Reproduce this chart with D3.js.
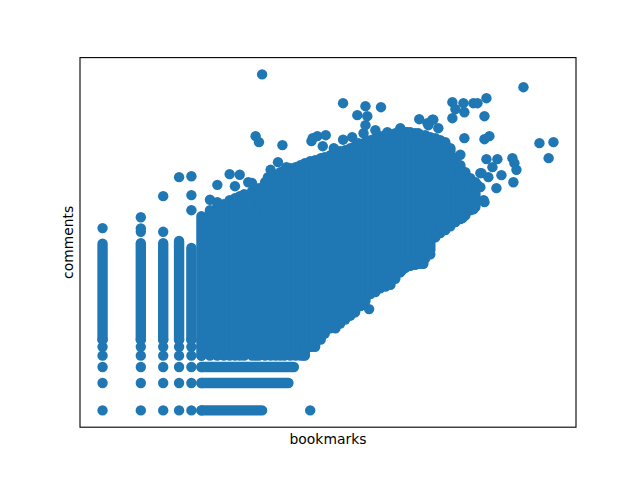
<!DOCTYPE html>
<html>
<head>
<meta charset="utf-8">
<script src="https://cdn.jsdelivr.net/npm/d3@7"></script>
<style>
  body { margin: 0; background: #fff; }
  text { font-family: "DejaVu Sans", sans-serif; font-size: 13.9px; fill: #000; }
</style>
</head>
<body>
<div id="chart"></div>
<script>
// values (log-log scatter, no tick labels)

// lowest counts: every combination is present, drawn as separate dots
var gridBookmarks = [1, 2, 3, 4, 5, 6];
var gridComments = [1, 2, 3, 4, 5, 6];

// columns at 1..5 bookmarks are packed solid up to these comment counts
var colBookmarks = [1, 2, 3, 4, 5];
var colTopComments = [68, 69, 69, 73, 61];

// rows at 1..3 comments run out to these bookmark counts
var rowComments = [1, 2, 3];
var rowEndBookmarks = [18, 29, 32];

// the dense cloud: for each bookmark count, lowest and highest comment count seen
var bandBookmarks = [6, 7, 8, 9, 10, 11, 12, 13, 15, 16, 17, 19, 21, 23, 25, 27, 30, 33, 36, 39,
  43, 47, 52, 56, 62, 68, 74, 81, 89, 97, 107, 117, 128, 140, 153, 168, 184, 201, 220, 241,
  264, 289, 316, 346, 379, 415, 454, 497, 545, 597, 653, 715, 783, 857];
var bandHigh = [137, 159, 176, 185, 205, 216, 227, 239, 258, 264, 278, 323, 358, 386, 417, 438, 461, 473, 497, 523,
  550, 565, 594, 609, 641, 674, 709, 728, 765, 804, 846, 890, 936, 985, 1036, 1062, 1090, 1117, 1146, 1146,
  1146, 1117, 1062, 1062, 1010, 985, 936, 890, 765, 594, 497, 417, 340, 264];
var bandLow = [4, 4, 4, 4, 4, 4, 4, 4, 4, 4, 4, 4, 4, 4, 4, 4, 4, 4, 4, 4,
  5, 5, 6, 7, 8, 8, 9, 10, 11, 12, 14, 16, 19, 20, 22, 23, 24, 28, 33, 37,
  39, 40, 41, 47, 58, 80, 89, 96, 106, 118, 127, 140, 159, 172];

// single points outside the cloud [bookmarks, comments]
var outliers = [
  [1, 101], [2, 92], [2, 100], [2, 133], [3, 92], [3, 227], [4, 367], [5, 376], [5, 233], [5, 159],
  [8, 302], [10, 396], [12, 390], [11, 292], [14, 323], [15, 316], [7, 207], [8, 195], [11, 207],
  [14, 190], [17, 190], [16, 1036], [17, 890], [26, 825], [18, 4950], [24, 537], [20, 367],
  [21, 442], [28, 473],
  [44, 913], [49, 1036], [57, 1062], [54, 804], [66, 765], [78, 948], [92, 1010], [113, 1117],
  [117, 1368], [140, 1206], [78, 2388], [117, 2213], [155, 2158], [101, 1763], [121, 1718],
  [45, 985], [103, 868], [174, 1146], [220, 1268], [250, 1146], [305, 1117], [360, 1439],
  [400, 1576], [310, 1593],
  [2047, 3580], [565, 2449], [690, 2388], [826, 2388], [890, 2388], [1047, 2710], [597, 2052],
  [702, 1901], [1010, 1718], [565, 1634], [393, 1576], [366, 1368], [438, 1268], [702, 985],
  [1010, 960], [1105, 1036], [2735, 868], [3525, 890], [3230, 594], [653, 648], [1047, 579],
  [1277, 579], [1167, 473], [1676, 594], [1738, 523], [1803, 442], [1706, 323], [1374, 386],
  [1255, 278], [1010, 195], [826, 163], [938, 406], [783, 358], [889, 302], [996, 205],
  [938, 285], [857, 323], [1084, 367], [957, 406], [667, 417], [545, 417], [826, 168],
  [43, 1], [38, 4], [44, 5], [125, 13], [228, 35], [274, 40], [334, 41], [379, 52], [415, 83],
  [678, 130]
];

var xLabel = "bookmarks";
var yLabel = "comments";

var width = 640, height = 480;
var margin = {top: 57.6, right: 64, bottom: 52.8, left: 80};
var color = "#1f77b4";
var dotR = 5.2;

// matplotlib style autoscale: data extent plus 5% on each side (in log space)
function paddedLogDomain(values) {
  var lo = Math.log10(d3.min(values));
  var hi = Math.log10(d3.max(values));
  var pad = (hi - lo) * 0.05;
  return [Math.pow(10, lo - pad), Math.pow(10, hi + pad)];
}

var allX = gridBookmarks.concat(colBookmarks, rowEndBookmarks, bandBookmarks, outliers.map(function(d) { return d[0]; }));
var allY = gridComments.concat(colTopComments, rowComments, bandHigh, bandLow, outliers.map(function(d) { return d[1]; }));

var xScale = d3.scaleLog()
  .domain(paddedLogDomain(allX))
  .range([margin.left, width - margin.right]);

var yScale = d3.scaleLog()
  .domain(paddedLogDomain(allY))
  .range([height - margin.bottom, margin.top]);

var svg = d3.select("#chart").append("svg")
  .attr("width", width)
  .attr("height", height);

var plot = svg.append("g").attr("fill", color).attr("stroke", color);

// discrete low-count grid
var grid = [];
gridBookmarks.forEach(function(b) {
  gridComments.forEach(function(c) { grid.push([b, c]); });
});

plot.selectAll("circle.grid")
  .data(grid)
  .enter().append("circle")
  .attr("class", "grid")
  .attr("cx", function(d) { return xScale(d[0]); })
  .attr("cy", function(d) { return yScale(d[1]); })
  .attr("r", dotR)
  .attr("stroke", "none");

// packed columns, drawn as runs of overlapping markers
plot.selectAll("line.col")
  .data(colBookmarks)
  .enter().append("line")
  .attr("class", "col")
  .attr("x1", function(d) { return xScale(d); })
  .attr("x2", function(d) { return xScale(d); })
  .attr("y1", yScale(gridComments[gridComments.length - 1]))
  .attr("y2", function(d, i) { return yScale(colTopComments[i]); })
  .attr("stroke-width", dotR * 2)
  .attr("stroke-linecap", "round");

plot.selectAll("line.row")
  .data(rowComments)
  .enter().append("line")
  .attr("class", "row")
  .attr("x1", xScale(gridBookmarks[gridBookmarks.length - 1]))
  .attr("x2", function(d, i) { return xScale(rowEndBookmarks[i]); })
  .attr("y1", function(d) { return yScale(d); })
  .attr("y2", function(d) { return yScale(d); })
  .attr("stroke-width", dotR * 2)
  .attr("stroke-linecap", "round");

plot.selectAll("line.band")
  .data(bandBookmarks)
  .enter().append("line")
  .attr("class", "band")
  .attr("x1", function(d) { return xScale(d); })
  .attr("x2", function(d) { return xScale(d); })
  .attr("y1", function(d, i) { return yScale(bandLow[i]); })
  .attr("y2", function(d, i) { return yScale(bandHigh[i]); })
  .attr("stroke-width", dotR * 2)
  .attr("stroke-linecap", "round");

plot.selectAll("circle.out")
  .data(outliers)
  .enter().append("circle")
  .attr("class", "out")
  .attr("cx", function(d) { return xScale(d[0]); })
  .attr("cy", function(d) { return yScale(d[1]); })
  .attr("r", dotR)
  .attr("stroke", "none");

// axes frame, ticks were switched off in the original
svg.append("rect")
  .attr("x", margin.left)
  .attr("y", margin.top)
  .attr("width", width - margin.left - margin.right)
  .attr("height", height - margin.top - margin.bottom)
  .attr("fill", "none")
  .attr("stroke", "#000")
  .attr("stroke-width", 1.1);

svg.append("text")
  .attr("x", (margin.left + width - margin.right) / 2)
  .attr("y", 443.5)
  .attr("text-anchor", "middle")
  .text(xLabel);

svg.append("text")
  .attr("transform", "translate(73," + ((margin.top + height - margin.bottom) / 2) + ") rotate(-90)")
  .attr("text-anchor", "middle")
  .text(yLabel);
</script>
</body>
</html>
